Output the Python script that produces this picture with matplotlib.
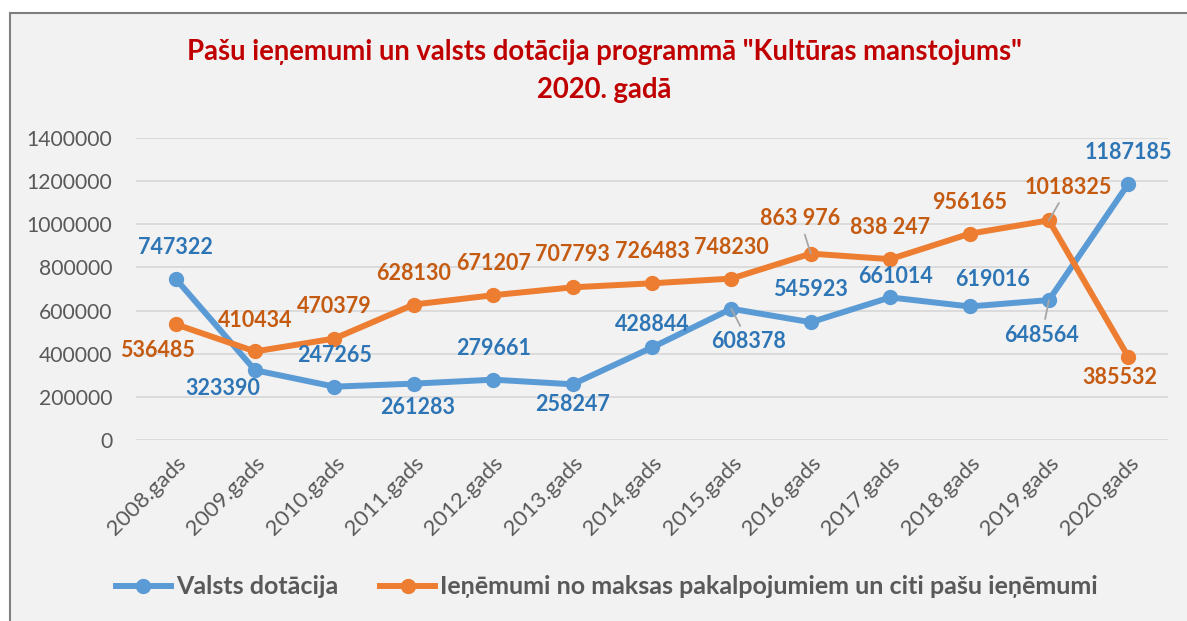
import numpy as np
import matplotlib.pyplot as plt
from matplotlib.patches import Rectangle
from matplotlib.lines import Line2D

plt.rcParams['font.family'] = ['Lato', 'DejaVu Sans']

years = ['2008.gads', '2009.gads', '2010.gads', '2011.gads', '2012.gads', '2013.gads', '2014.gads',
         '2015.gads', '2016.gads', '2017.gads', '2018.gads', '2019.gads', '2020.gads']
valsts = [747322, 323390, 247265, 261283, 279661, 258247, 428844,
          608378, 545923, 661014, 619016, 648564, 1187185]
ienemumi = [536485, 410434, 470379, 628130, 671207, 707793, 726483,
            748230, 863976, 838247, 956165, 1018325, 385532]
valsts_labels = [str(v) for v in valsts]
ienemumi_labels = [str(v) for v in ienemumi]
ienemumi_labels[8] = '863 976'
ienemumi_labels[9] = '838 247'

# label offsets in pixels (dx, dy up), and whether a leader line is drawn
valsts_off = [(0, 31), (-32, -18), (0, 31), (4, -24), (0, 31), (0, -20), (0, 23),
              (17, -33), (0, 33), (5, 21), (23, 27), (-7, -35), (0, 31)]
valsts_lead = [False] * 7 + [True] + [False] * 3 + [True, False]
ienemumi_off = [(-18, -26), (0, 31), (0, 32), (0, 31), (0, 32), (0, 33), (0, 32),
                (0, 31), (-11, 35), (0, 32), (0, 31), (19, 33), (-8, -21)]
ienemumi_lead = [False] * 8 + [True, False, False, True, False]

blue, orange = '#5B9BD5', '#ED7D31'
blue_txt, orange_txt = '#2E75B6', '#C55A11'

fig = plt.figure(figsize=(11.87, 6.21), dpi=100)
fig.patch.set_facecolor('white')
fig.patches.append(Rectangle((10 / 1187, -0.1), 1.2, 1 - 13 / 621 + 0.1, transform=fig.transFigure,
                             facecolor='#F2F2F2', edgecolor='#7F7F7F', lw=1.5, zorder=-10))

ax = fig.add_axes([136 / 1187, 1 - 440 / 621, (1168 - 136) / 1187, (440 - 138) / 621])
ax.set_facecolor('none')
x = np.arange(len(years))
ax.plot(x, valsts, color=blue, lw=4.3, marker='o', ms=10, solid_capstyle='round', zorder=3)
ax.plot(x, ienemumi, color=orange, lw=4.3, marker='o', ms=10, solid_capstyle='round', zorder=3)

ax.set_xlim(-0.5, len(years) - 0.5)
ax.set_ylim(0, 1400000)
ax.set_yticks(np.arange(0, 1400001, 200000))
ax.set_yticklabels([str(v) for v in range(0, 1400001, 200000)])
ax.grid(axis='y', color='#D9D9D9', lw=1.3)
ax.set_axisbelow(True)
for s in ax.spines.values():
    s.set_visible(False)
ax.tick_params(axis='both', length=0, colors='#595959')
ax.tick_params(axis='y', labelsize=15.2, pad=17)
ax.tick_params(axis='x', labelsize=16, pad=9)
ax.set_xticks(x)
ax.set_xticklabels(years, rotation=45, ha='right', va='top', rotation_mode='anchor')

def add_labels(vals, labels, offs, leads, col):
    for i, v in enumerate(vals):
        dx, dy = offs[i]
        ap = None
        if leads[i]:
            ap = dict(arrowstyle='-', color='#A6A6A6', lw=1.3, shrinkA=2, shrinkB=0)
        ax.annotate(labels[i], (i, v), xytext=(dx, dy), textcoords='offset pixels',
                    ha='center', va='center', fontsize=15.5, fontweight='bold', color=col,
                    arrowprops=ap, zorder=5)

add_labels(valsts, valsts_labels, valsts_off, valsts_lead, blue_txt)
add_labels(ienemumi, ienemumi_labels, ienemumi_off, ienemumi_lead, orange_txt)

fig.text(0.509, 1 - 52 / 621, 'Pašu ieņemumi un valsts dotācija programmā "Kultūras manstojums"',
         ha='center', va='center', fontsize=19.8, fontweight='bold', color='#C00000')
fig.text(0.509, 1 - 90 / 621, '2020. gadā', ha='center', va='center', fontsize=19.8,
         fontweight='bold', color='#C00000')

handles = [Line2D([], [], color=blue, lw=4.3, marker='o', ms=10),
           Line2D([], [], color=orange, lw=4.3, marker='o', ms=10)]
leg = fig.legend(handles, ['Valsts dotācija', 'Ieņēmumi no maksas pakalpojumiem un citi pašu ieņēmumi'],
                 loc='center', bbox_to_anchor=(607 / 1187, 1 - 587 / 621), ncol=2, frameon=False,
                 handlelength=2.2, handletextpad=0.2, columnspacing=1.7,
                 prop={'size': 18, 'weight': 'bold'})
for t in leg.get_texts():
    t.set_color('#595959')

fig.savefig('out.png', dpi=100)
